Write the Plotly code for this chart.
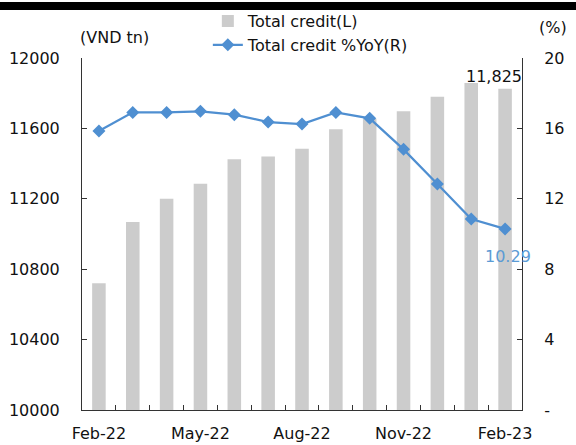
import plotly.graph_objects as go

categories = ["Feb-22", "Mar-22", "Apr-22", "May-22", "Jun-22", "Jul-22", "Aug-22",
              "Sep-22", "Oct-22", "Nov-22", "Dec-22", "Jan-23", "Feb-23"]
total_credit = [10720, 11068, 11200, 11285, 11425, 11440, 11485,
                11595, 11655, 11697, 11780, 11858, 11825]
credit_yoy = [15.85, 16.91, 16.91, 16.97, 16.78, 16.36, 16.25,
              16.91, 16.57, 14.81, 12.84, 10.85, 10.29]
x_tick_labels = ["Feb-22", "", "", "May-22", "", "", "Aug-22",
                 "", "", "Nov-22", "", "", "Feb-23"]
left_ticks = [10000, 10400, 10800, 11200, 11600, 12000]
right_tick_vals = [0, 4, 8, 12, 16, 20]
right_tick_text = ["-", "4", "8", "12", "16", "20"]

FONT = "DejaVu Sans"
FS = 16
TXT = "#111111"

fig = go.Figure()
fig.add_trace(go.Bar(
    x=categories, y=total_credit, name="Total credit(L)",
    marker=dict(color="#cccccc", line=dict(width=0)), width=0.4, yaxis="y",
))
fig.add_trace(go.Scatter(
    x=categories, y=credit_yoy, name="Total credit %YoY(R)", yaxis="y2",
    mode="lines+markers", line=dict(color="#4f8fd1", width=2.25),
    marker=dict(symbol="diamond", size=10, color="#4f8fd1"),
))

fig.update_layout(
    width=576, height=445,
    margin=dict(l=82, r=54, t=58, b=35, autoexpand=False),
    paper_bgcolor="white", plot_bgcolor="white",
    font=dict(family=FONT, size=FS, color=TXT),
    showlegend=True,
    legend=dict(x=0.286, y=1.153, xanchor="left", yanchor="top",
                bgcolor="rgba(0,0,0,0)", font=dict(size=FS, color=TXT),
                orientation="v"),
    xaxis=dict(
        type="category", tickmode="array", tickvals=categories, ticktext=x_tick_labels,
        tickson="boundaries", ticks="inside", ticklen=5, tickcolor="#333",
        showline=True, linecolor="#333", linewidth=1, showgrid=False,
        ticklabelstandoff=9, range=[-0.5, len(categories) - 0.5],
        tickangle=0, automargin=False,
    ),
    yaxis=dict(
        range=[10000, 12000], tickmode="array", tickvals=left_ticks,
        tickformat="d", ticks="inside", ticklen=5, tickcolor="#333",
        showline=True, linecolor="#333", linewidth=1, showgrid=False,
        zeroline=False, ticklabelstandoff=18, automargin=False,
    ),
    yaxis2=dict(
        range=[0, 20], overlaying="y", side="right", tickmode="array",
        tickvals=right_tick_vals, ticktext=right_tick_text,
        ticks="inside", ticklen=5, tickcolor="#333",
        showline=True, linecolor="#333", linewidth=1, showgrid=False,
        zeroline=False, ticklabelstandoff=18, automargin=False,
    ),
    shapes=[dict(type="rect", xref="paper", yref="paper",
                 x0=-0.19, x1=1.13, y0=1.1363, y1=1.1590,
                 fillcolor="black", line=dict(width=0), layer="above")],
    annotations=[
        dict(text="(VND tn)", xref="paper", yref="paper", x=-0.009, y=1.057,
             xanchor="left", yanchor="middle", showarrow=False,
             font=dict(size=FS, color=TXT)),
        dict(text="(%)", xref="paper", yref="paper", x=1.034, y=1.088,
             xanchor="left", yanchor="middle", showarrow=False,
             font=dict(size=FS, color=TXT)),
        dict(text=f"{total_credit[-1]:,}", x=categories[-1], y=total_credit[-1],
             xref="x", yref="y", showarrow=False, xshift=-11, yshift=12,
             yanchor="middle", font=dict(size=FS, color=TXT)),
        dict(text=f"{credit_yoy[-1]:.2f}", x=categories[-1], y=credit_yoy[-1],
             xref="x", yref="y2", showarrow=False, xshift=3, yshift=-28,
             yanchor="middle", font=dict(size=FS, color="#5b9bd5")),
    ],
)

fig.write_html("out.html", config={"displayModeBar": False},
               post_script="document.body.style.margin='0';")
